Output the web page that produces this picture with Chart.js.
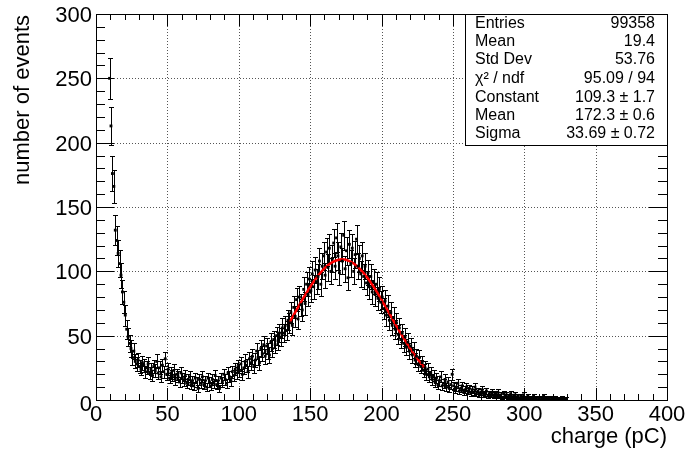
<!DOCTYPE html>
<html>
<head>
<meta charset="utf-8">
<script src="https://cdn.jsdelivr.net/npm/chart.js@4.4.1/dist/chart.umd.min.js"></script>
<style>
  html, body { margin: 0; padding: 0; background: #fff; }
  #wrap { width: 689px; height: 449px; }
</style>
</head>
<body>
<div id="wrap"><canvas id="histChart"></canvas></div>
<script>
// histogram: 1 pC bins, first filled bin starts at 9 pC
const binLow = 9;
const binWidth = 1;
const counts = [
  250,213,176,166,132,124,114,106,97,84,
  76,66,55,49,44,40,33,38,30,28,
  31,26,24,29,27,22,25,28,21,24,
  19,26,23,30,21,25,18,27,22,32,
  20,24,17,21,19,23,16,20,18,14,
  21,17,15,19,13,16,18,12,15,11,
  17,14,9,16,13,18,12,15,10,17,
  14,11,16,13,19,12,15,9,17,14,
  20,16,13,21,18,15,22,19,24,21,
  26,23,28,20,25,30,27,22,32,29,
  34,26,31,38,33,29,40,36,43,34,
  42,38,35,45,40,47,43,50,46,52,
  49,56,52,58,54,62,
  60,68,58,72,65,78,63,80,74,70,
  86,75,90,82,94,85,98,88,101,92,
  96,108,90,104,112,97,115,103,118,100,
  110,122,104,126,112,99,119,108,128,102,
  116,95,121,106,118,100,113,125,104,110,
  98,112,96,104,91,99,88,96,84,92,
  82,90,79,86,76,80,71,77,66,73,
  62,68,58,64,55,60,51,56,47,52,
  44,49,41,45,38,42,35,39,31,34,
  28,33,26,29,23,25,20,24,18,21,
  16,19,14,17,12,15,18,11,13,16,
  10,14,9,12,20,11,8,10,13,7,
  9,11,6,8,10,7,9,5,8,6,
  10,5,7,4,6,8,4,5,7,3,
  5,4,6,3,5,4,6,3,4,2,
  5,3,4,2,3,5,2,3,4,2,
  3,1,3,2,4,2,1,3,2,2,
  1,3,1,2,2,1,2,1,3,1,
  2,1,1,2,1,1,2,1,1,1,
  1,2,1,1,1
];

// gaussian fit curve as drawn
const fitX = [135,140,145,150,155,160,165,170,172.3,175,180,185,190,195,200,205,210,215,220,225,230];
const fitY = [59.2,69.0,78.7,87.8,95.8,102.3,106.8,109.0,109.3,109.0,106.5,101.8,95.2,87.1,78.0,68.2,58.4,49.0,40.1,32.2,25.2];

const xTicks = [0,50,100,150,200,250,300,350,400];
const yTicks = [0,50,100,150,200,250,300];

const statNames  = ["Entries","Mean","Std Dev","\u03C7\u00B2 / ndf","Constant","Mean","Sigma"];
const statValues = ["99358","19.4","53.76","95.09 / 94","109.3 \u00B1 1.7","172.3 \u00B1 0.6","33.69 \u00B1 0.72"];

const histPoints = counts.map((n, i) => ({ x: binLow + (i + 0.5) * binWidth, y: n }));
const fitPoints = fitX.map((x, i) => ({ x: x, y: fitY[i] }));

const FONT = "'Liberation Sans', Arial, Helvetica, sans-serif";

const rootStyle = {
  id: "rootStyle",
  beforeDatasetsDraw(chart) {
    const ctx = chart.ctx, a = chart.chartArea;
    const xs = chart.scales.x, ys = chart.scales.y;

    // dotted grid
    ctx.save();
    ctx.strokeStyle = "#555";
    ctx.lineWidth = 1;
    ctx.setLineDash([1, 2]);
    ctx.beginPath();
    xTicks.forEach(v => {
      if (v <= xs.min || v >= xs.max) return;
      const px = Math.round(xs.getPixelForValue(v)) + 0.5;
      ctx.moveTo(px, a.top); ctx.lineTo(px, a.bottom);
    });
    yTicks.forEach(v => {
      if (v <= ys.min || v >= ys.max) return;
      const py = Math.round(ys.getPixelForValue(v)) + 0.5;
      ctx.moveTo(a.left, py); ctx.lineTo(a.right, py);
    });
    ctx.stroke();
    ctx.restore();

    // poisson error bars
    ctx.save();
    ctx.beginPath();
    ctx.rect(a.left, a.top, a.right - a.left, a.bottom - a.top);
    ctx.clip();
    ctx.strokeStyle = "#000";
    ctx.lineWidth = 1;
    ctx.beginPath();
    counts.forEach((n, i) => {
      const lo = binLow + i * binWidth;
      const px = Math.round(xs.getPixelForValue(lo + binWidth / 2)) + 0.5;
      const py = ys.getPixelForValue(n);
      const e = Math.sqrt(n);
      const yTop = Math.round(ys.getPixelForValue(n + e)) + 0.5;
      const yBot = Math.round(ys.getPixelForValue(n - e)) + 0.5;
      ctx.moveTo(px, yTop); ctx.lineTo(px, yBot);
      ctx.moveTo(px - 2.5, yTop); ctx.lineTo(px + 2.5, yTop);
      ctx.moveTo(px - 2.5, yBot); ctx.lineTo(px + 2.5, yBot);
      ctx.moveTo(xs.getPixelForValue(lo), py); ctx.lineTo(xs.getPixelForValue(lo + binWidth), py);
    });
    ctx.stroke();
    ctx.restore();
  },
  afterDraw(chart) {
    const ctx = chart.ctx, a = chart.chartArea;
    const xs = chart.scales.x, ys = chart.scales.y;
    ctx.save();
    ctx.strokeStyle = "#000";
    ctx.lineWidth = 1;

    // ticks on all four sides
    ctx.beginPath();
    for (let v = xs.min; v <= xs.max; v += 10) {
      const px = Math.round(xs.getPixelForValue(v)) + 0.5;
      const len = v % 50 === 0 ? 12 : 6;
      ctx.moveTo(px, a.bottom); ctx.lineTo(px, a.bottom - len);
      ctx.moveTo(px, a.top); ctx.lineTo(px, a.top + len);
    }
    for (let v = ys.min; v <= ys.max; v += 10) {
      const py = Math.round(ys.getPixelForValue(v)) + 0.5;
      const len = v % 50 === 0 ? 18 : 9;
      ctx.moveTo(a.left, py); ctx.lineTo(a.left + len, py);
      ctx.moveTo(a.right, py); ctx.lineTo(a.right - len, py);
    }
    ctx.stroke();

    // frame
    ctx.strokeRect(Math.round(a.left) + 0.5, Math.round(a.top) + 0.5,
      Math.round(a.right - a.left), Math.round(a.bottom - a.top));

    // tick labels
    ctx.fillStyle = "#000";
    ctx.font = "22px " + FONT;
    ctx.textAlign = "center";
    ctx.textBaseline = "top";
    xTicks.forEach(v => ctx.fillText(String(v), xs.getPixelForValue(v), a.bottom + 4));
    ctx.textAlign = "right";
    ctx.textBaseline = "middle";
    yTicks.forEach(v => ctx.fillText(String(v), a.left - 4, ys.getPixelForValue(v) + (v === 0 ? 5 : 2)));

    // axis titles
    ctx.textBaseline = "alphabetic";
    ctx.textAlign = "right";
    ctx.fillText("charge (pC)", a.right, 443);
    ctx.save();
    ctx.translate(29, a.top + 1);
    ctx.rotate(-Math.PI / 2);
    ctx.fillText("number of events", 0, 0);
    ctx.restore();

    // stats box
    const bx = 465, by = Math.round(a.top), bw = Math.round(a.right) - bx, bh = 145 - by;
    ctx.fillStyle = "#fff";
    ctx.fillRect(bx, by, bw, bh);
    ctx.strokeRect(bx + 0.5, by + 0.5, bw, bh);
    ctx.fillStyle = "#000";
    ctx.font = "16px " + FONT;
    ctx.textBaseline = "middle";
    const rowY = [24, 42, 60, 79, 98, 116, 134];
    statNames.forEach((s, i) => {
      ctx.textAlign = "left";
      ctx.fillText(s, 475, rowY[i]);
      ctx.textAlign = "right";
      ctx.fillText(statValues[i], 655, rowY[i]);
    });
    ctx.restore();
  }
};

new Chart(document.getElementById("histChart"), {
  type: "scatter",
  data: {
    datasets: [
      {
        data: histPoints,
        pointStyle: "rect",
        pointRadius: 2,
        pointBorderWidth: 0,
        pointBackgroundColor: "#000",
        showLine: false
      },
      {
        data: fitPoints,
        showLine: true,
        borderColor: "#ff0000",
        borderWidth: 2.5,
        pointRadius: 0,
        cubicInterpolationMode: "monotone",
        fill: false
      }
    ]
  },
  options: {
    responsive: true,
    maintainAspectRatio: false,
    animation: false,
    events: [],
    layout: { padding: { left: 0, right: 22, top: 14, bottom: 0 } },
    plugins: { legend: { display: false }, tooltip: { enabled: false } },
    scales: {
      x: {
        type: "linear", min: 0, max: 400,
        grid: { display: false }, border: { display: false },
        ticks: { display: false },
        afterFit: s => { s.height = 49; s.paddingLeft = 0; s.paddingRight = 0; }
      },
      y: {
        type: "linear", min: 0, max: 300,
        grid: { display: false }, border: { display: false },
        ticks: { display: false },
        afterFit: s => { s.width = 96; s.paddingTop = 0; s.paddingBottom = 0; }
      }
    }
  },
  plugins: [rootStyle]
});
</script>
</body>
</html>
